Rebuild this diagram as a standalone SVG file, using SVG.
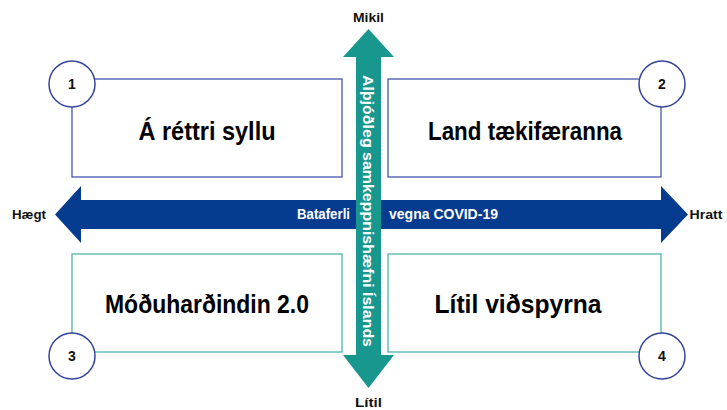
<svg xmlns="http://www.w3.org/2000/svg" width="727" height="410" viewBox="0 0 727 410">
<style>
  .bg { fill: #ffffff; }
  .boxTop { fill: #ffffff; stroke: #4656ad; stroke-width: 1.3; }
  .boxBot { fill: #ffffff; stroke: #4fb5ab; stroke-width: 1.3; }
  .circ { fill: #ffffff; stroke: #34439a; stroke-width: 1.5; }
  .num { font-family: "Liberation Sans", Arial, sans-serif; font-weight: bold; font-size: 14px; fill: #111111; text-anchor: middle; }
  .title { font-family: "Liberation Sans", Arial, sans-serif; font-weight: bold; font-size: 26px; fill: #000000; text-anchor: middle; }
  .axis { font-family: "Liberation Sans", Arial, sans-serif; font-weight: bold; font-size: 13.5px; fill: #111111; text-anchor: middle; }
  .wt { font-family: "Liberation Sans", Arial, sans-serif; font-weight: bold; font-size: 14px; fill: #ffffff; }
  .wtv { font-family: "Liberation Sans", Arial, sans-serif; font-weight: bold; font-size: 15.5px; fill: #ffffff; }
</style>
<rect class="bg" x="0" y="0" width="727" height="410"/>

<g id="connectors">
  <polygon id="arrow-h" fill="#063c8f" points="55,214.5 81,186 81,200 661,200 661,186 688,214.5 661,243 661,229 81,229 81,243"/>
  <polygon id="arrow-v" fill="#17978e" points="368.5,29 394,57 381,57 381,355 394,355 368.5,388 343,355 356,355 356,57 343,57"/>
</g>

<g id="axis-labels">
  <text class="axis" x="368.5" y="22" textLength="31" lengthAdjust="spacingAndGlyphs">Mikil</text>
  <text class="axis" x="368.5" y="407" textLength="27" lengthAdjust="spacingAndGlyphs">Lítil</text>
  <text class="axis" x="29" y="219" textLength="34" lengthAdjust="spacingAndGlyphs">Hægt</text>
  <text class="axis" x="706" y="219" textLength="33" lengthAdjust="spacingAndGlyphs">Hratt</text>
  <text class="wt" x="350" y="219" text-anchor="end" textLength="53" lengthAdjust="spacingAndGlyphs">Bataferli</text>
  <text class="wt" x="389" y="219" text-anchor="start" textLength="109" lengthAdjust="spacingAndGlyphs">vegna COVID-19</text>
  <text class="wtv" x="0" y="0" text-anchor="middle" transform="translate(363,211) rotate(90)" textLength="272" lengthAdjust="spacingAndGlyphs">Alþjóðleg samkeppnishæfni Íslands</text>
</g>

<g id="node-1">
  <rect class="boxTop" x="72" y="79" width="270" height="98"/>
  <circle class="circ" cx="72" cy="84" r="23"/>
  <text class="num" x="72" y="89">1</text>
  <text class="title" x="207" y="140" textLength="137" lengthAdjust="spacingAndGlyphs">Á réttri syllu</text>
</g>

<g id="node-2">
  <rect class="boxTop" x="388" y="79" width="273" height="98"/>
  <circle class="circ" cx="662" cy="84" r="23"/>
  <text class="num" x="662" y="89">2</text>
  <text class="title" x="525" y="140" textLength="194" lengthAdjust="spacingAndGlyphs">Land tækifæranna</text>
</g>

<g id="node-3">
  <rect class="boxBot" x="72" y="254" width="270" height="98"/>
  <circle class="circ" cx="72" cy="356" r="23"/>
  <text class="num" x="72" y="361">3</text>
  <text class="title" x="207" y="313" textLength="204" lengthAdjust="spacingAndGlyphs">Móðuharðindin 2.0</text>
</g>

<g id="node-4">
  <rect class="boxBot" x="388" y="254" width="273" height="98"/>
  <circle class="circ" cx="662" cy="356" r="23"/>
  <text class="num" x="662" y="361">4</text>
  <text class="title" x="518" y="313" textLength="167" lengthAdjust="spacingAndGlyphs">Lítil viðspyrna</text>
</g>
</svg>
